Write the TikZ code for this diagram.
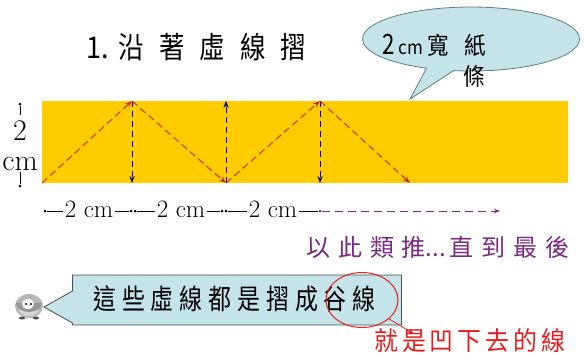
\documentclass[tikz,border=0pt]{standalone}
\usepackage{fontspec}
\newfontfamily\cjk{Noto Sans CJK TC}
\usetikzlibrary{arrows.meta, positioning, shapes.geometric, shapes.callouts}
\definecolor{strip}{RGB}{255,204,0}
\definecolor{foldred}{RGB}{200,48,30}
\definecolor{bubble}{RGB}{196,228,234}
\definecolor{bubbleline}{RGB}{95,125,130}
\definecolor{moreviolet}{RGB}{122,40,128}
\definecolor{notered}{RGB}{228,30,30}
\definecolor{pengray}{RGB}{150,150,150}
% letter spacing and horizontal squeeze for the CJK lines
\newcommand{\spaced}[2]{\addfontfeatures{LetterSpace=#1, FakeStretch=#2}}

\begin{document}
\begin{tikzpicture}[x=1pt, y=-1pt, every node/.style={inner sep=0pt},
  fold/.style={foldred, line width=1pt, dash pattern=on 7pt off 4pt, -{Stealth[length=7pt]}},
  crease/.style={black, line width=1pt, dash pattern=on 6pt off 4pt, -{Stealth[length=7pt]}},
  dimlabel/.style={fill=white, inner xsep=2pt, font=\fontsize{25}{25}\selectfont},
  dimdot/.style={circle, fill=black, minimum size=3pt}]
  \useasboundingbox (0,0) rectangle (584,360);

  % title
  \node[anchor=west, font=\fontsize{30}{30}\selectfont\cjk] (title) at (86,47)
    {\spaced{0}{0.9}1.\hspace{10pt}\spaced{50}{0.85}沿著虛線摺};

  % paper strip and fold lines
  \fill[strip] (42,101) rectangle (568,183);
  \coordinate (b0) at (42,183);
  \coordinate (t1) at (132,101);
  \coordinate (b1) at (132,183);
  \coordinate (t2) at (226,101);
  \coordinate (b2) at (226,183);
  \coordinate (t3) at (320,101);
  \coordinate (b3) at (320,183);
  \coordinate (b4) at (410,183);
  \draw[crease] (t1) -- (b1);
  \draw[crease] (b2) -- (t2);
  \draw[crease] (t3) -- (b3);
  \draw[fold] (b0) -- (t1);
  \draw[fold] (t1) -- (b2);
  \draw[fold] (b2) -- (t3);
  \draw[fold] (t3) -- (b4);

  % strip width
  \node[dimdot] (htop) at (20,104) {};
  \node[dimdot] (hbot) at (20,186) {};
  \node[align=center, font=\fontsize{30}{30}\selectfont] (hlabel) at (20,146) {2\\cm};
  \draw (htop) -- (20,115);
  \draw (20,172) -- (hbot);

  % 2 cm steps along the strip
  \node[dimdot] (d0) at (45,211) {};
  \node[dimdot] (d1) at (131,211) {};
  \node[dimdot] (d1b) at (135,211) {};
  \node[dimdot] (d2) at (222,211) {};
  \node[dimdot] (d2b) at (226,211) {};
  \node[dimdot, fill=moreviolet] (d3) at (320,211) {};
  \coordinate (dend) at (500,211);
  \draw (d0) -- (d1);
  \draw (d1b) -- (d2);
  \draw (d2b) -- (d3);
  \node[dimlabel] (w1) at (89,209) {2 cm};
  \node[dimlabel] (w2) at (181,209) {2 cm};
  \node[dimlabel] (w3) at (273,209) {2 cm};
  \draw[moreviolet, line width=1pt, dash pattern=on 8pt off 5pt, -{Stealth[length=6pt]}] (d3) -- (dend);
  \node[anchor=west, moreviolet, font=\fontsize{24}{24}\selectfont\cjk] (more) at (306,247)
    {\spaced{33}{1}以此類推\spaced{0}{1}...\,\spaced{33}{1}直到最後};

  % speech bubble
  \node[ellipse callout, draw=bubbleline, fill=bubble, line width=0.8pt,
        minimum width=217pt, minimum height=64pt,
        callout absolute pointer={(410,99)}] (note) at (471,39) {};
  \node[anchor=west, font=\fontsize{24}{24}\selectfont\cjk] (notetext) at (382,45)
    {{\fontsize{28}{28}\selectfont\spaced{0}{0.8}2}\,{\fontsize{19}{19}\selectfont\spaced{0}{0.9}cm}\hspace{4pt}\spaced{65}{0.9}寬紙};
  \node[font=\fontsize{24}{24}\selectfont\cjk\spaced{0}{0.9}] (notetext2) at (474,76) {條};

  % penguin
  \begin{scope}[shift={(29,305)}]
    \fill[pengray!70] (0,1) ellipse (14pt and 12pt);
    \fill[pengray!40] (0,4) ellipse (10pt and 7pt);
    \fill[pengray] (-13,-2) arc (180:360:13pt and 9pt) -- cycle;
    \fill[white] (-1,-1) ellipse (6pt and 5pt);
    \fill[black] (-3,-1) circle (1.2pt);
    \fill[black] (2,-1) circle (1.2pt);
    \fill[pengray!50!black] (-7,13) ellipse (3pt and 1.5pt);
    \fill[pengray!50!black] (7,13) ellipse (3pt and 1.5pt);
  \end{scope}
  \coordinate (peng) at (44,307);

  % valley fold note
  \node[rectangle callout, draw=black!70, fill=bubble, line width=0.8pt,
        minimum width=329pt, minimum height=50pt,
        callout absolute pointer={(peng)}, callout pointer width=32pt] (valley) at (237,300) {};
  \node[anchor=west, font=\fontsize{28}{28}\selectfont\cjk\spaced{21}{0.82}] (valleytext) at (93,299) {這些虛線都是摺成谷線};
  \node[ellipse, draw=notered, line width=1pt, minimum width=72pt, minimum height=55pt] (ring) at (362,300) {};
  \coordinate (ringtip) at (414,334);
  \draw[notered, line width=0.8pt, -{Stealth[length=6pt]}] (ring.-35) -- (ringtip);
  \node[anchor=west, notered, font=\fontsize{26}{26}\selectfont\cjk\spaced{15}{0.92}] (meaning) at (374,341) {就是凹下去的線};
\end{tikzpicture}
\end{document}
